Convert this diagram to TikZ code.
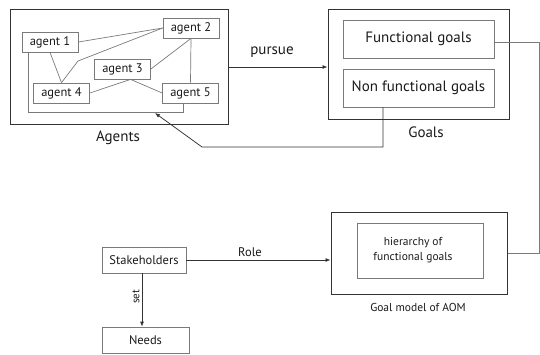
\documentclass[tikz,border=0pt]{standalone}
\usepackage{fontspec}
\setmainfont{PT Sans}
\usetikzlibrary{arrows.meta,calc}
\definecolor{darkline}{HTML}{333333}
\definecolor{lightline}{HTML}{7A7A7A}
\definecolor{txt}{HTML}{1A1A1A}
\tikzset{
  outerbox/.style={draw=darkline, line width=1pt, inner sep=0pt},
  innerbox/.style={draw=lightline, line width=0.75pt, inner sep=0pt, text=txt},
  agentbox/.style={innerbox, minimum width=56pt, minimum height=20pt, font=\fontsize{12.5}{13}\selectfont},
  link/.style={draw=lightline, line width=0.7pt},
  arr/.style={draw=darkline, line width=0.75pt, -{Latex[length=5pt,width=4pt]}},
  lbl/.style={text=txt, inner sep=0pt}
}
\begin{document}
\begin{tikzpicture}[x=1pt,y=-1pt]
\useasboundingbox (0,0) rectangle (540,354);
% Agents
\node[outerbox, minimum width=218pt, minimum height=115pt] (agbox) at (119,66.5) {};
\node[agentbox] (a1) at (50,42) {agent 1};
\node[agentbox] (a2) at (191,28) {agent 2};
\node[agentbox] (a3) at (122.5,69) {agent 3};
\node[agentbox] (a4) at (61.5,93) {agent 4};
\node[agentbox] (a5) at (190.5,93) {agent 5};
\coordinate (k1) at (78,61);
\coordinate (c1) at (28,112);
\coordinate (c2) at (183,112);
\draw[link] (a1.east) -- (a2.west);
\draw[link] (a1.south) -- (a4.north);
\draw[link] (a4.north) -- (k1) -- (a2.west);
\draw[link] (a3.east) -- (a2.south);
\draw[link] (a2.south) -- (a5.north);
\draw[link] (a3.-52) -- (a4.east);
\draw[link] (a3.-52) -- (a5.west);
\draw[link] (c1 |- a1.south) -- (c1) -- (c2) -- (c2 |- a5.south);
\node[lbl, font=\fontsize{15}{16}\selectfont] (aglbl) at (118,138) {Agents};
% Goals
\node[outerbox, minimum width=181pt, minimum height=110pt] (goals) at (418.5,64) {};
\node[innerbox, minimum width=151pt, minimum height=38pt, font=\fontsize{15}{16}\selectfont] (fg) at (418.5,39) {Functional goals};
\node[innerbox, minimum width=151pt, minimum height=38pt, font=\fontsize{15}{16}\selectfont] (nfg) at (418.5,88) {Non functional goals};
\node[lbl, font=\fontsize{15}{16}\selectfont] (glbl) at (426,132) {Goals};
% pursue
\draw[arr] (agbox.east) ++(0,0.5) -- ($(goals.west)+(0,3)$);
\node[lbl, font=\fontsize{15}{16}\selectfont] (pursue) at (272,52) {pursue};
% feedback arrow
\coordinate (f1) at (383,147);
\coordinate (f2) at (202,147);
\coordinate (fend) at (155,113);
\draw[arr] (f1 |- nfg.south) -- (f1) -- (f2) -- (fend);
% Goal model
\node[outerbox, minimum width=176pt, minimum height=82pt] (gm) at (419,253) {};
\node[innerbox, minimum width=126pt, minimum height=55pt] (hier) at (420,250.5) {};
\node[lbl, align=center, font=\fontsize{11.5}{15}\selectfont] (hiertxt) at (413,250) {hierarchy of\\functional goals};
\node[lbl, font=\fontsize{11.5}{12}\selectfont] (gmlbl) at (418,307) {Goal model of AOM};
% right connector
\coordinate (r1) at (539,42);
\draw[link] ($(fg.east)+(0,3)$) -- (r1) |- (gm.east);
% Stakeholders
\node[innerbox, minimum width=84pt, minimum height=26pt, font=\fontsize{12.5}{13}\selectfont] (sh) at (144,260) {Stakeholders};
\node[innerbox, minimum width=87pt, minimum height=26pt, font=\fontsize{12.5}{13}\selectfont] (needs) at (145.5,340) {Needs};
\draw[arr] (sh.east) -- (sh.east -| gm.west);
\node[lbl, font=\fontsize{12.5}{13}\selectfont] (role) at (250,252) {Role};
\coordinate (s1) at (142,273);
\draw[arr] (s1) -- (s1 |- needs.north);
\node[lbl, rotate=90, font=\fontsize{11}{12}\selectfont] (setl) at (136,297) {set};
\end{tikzpicture}
\end{document}
